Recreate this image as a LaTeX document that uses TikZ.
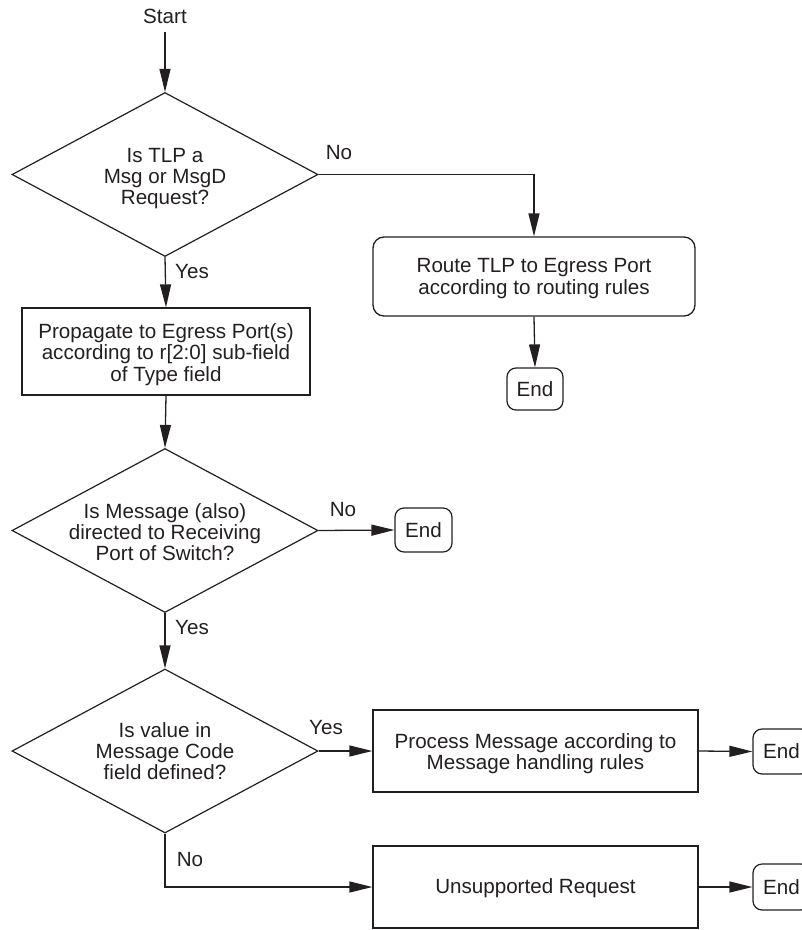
\documentclass[tikz,border=0pt]{standalone}
\usepackage{fontspec}
\setmainfont{Liberation Sans}
\usetikzlibrary{arrows.meta,shapes.geometric,calc}
\definecolor{ink}{HTML}{231F20}
\begin{document}
\begin{tikzpicture}[x=1pt,y=-1pt,
  font=\fontsize{20.6}{21.3}\selectfont,
  every node/.style={text=ink},
  arr/.style={draw=ink,line width=1.3pt,-{Triangle[length=23pt,width=11pt]}},
  dia/.style={shape=diamond,draw=ink,line width=1.2pt,inner sep=0pt,minimum width=306pt,minimum height=164pt},
  txt/.style={align=center,inner sep=0pt},
  procbox/.style={shape=rectangle,draw=ink,line width=1.3pt,inner sep=0pt},
  rbox/.style={shape=rectangle,draw=ink,line width=1.3pt,rounded corners=11pt,inner sep=0pt},
  endbox/.style={shape=rectangle,draw=ink,line width=1.2pt,rounded corners=9pt,inner sep=0pt,minimum width=57pt,minimum height=44pt},
  lab/.style={inner sep=0pt}
]
\useasboundingbox (0,0) rectangle (802,930);

\node[inner sep=0pt] (start) at (165,16) {Start};
\coordinate (s0) at (165,32);

\node[dia,label={[txt,yshift=-4pt]center:Is TLP a\\Msg or MsgD\\Request?}] (d1) at (165,174.5) {};

\node[procbox,minimum width=288pt,minimum height=87pt,
  label={[txt,yshift=-3pt]center:Propagate to Egress Port(s)\\according to r[2:0] sub-field\\of Type field}] (b1) at (166,351.5) {};

\node[dia,label={[txt,yshift=-1.5pt]center:Is Message (also)\\directed to Receiving\\Port of Switch?}] (d2) at (165,530.5) {};

\node[dia,label={[txt]center:Is value in\\Message Code\\field defined?}] (d3) at (165,751) {};

\node[rbox,minimum width=322pt,minimum height=79pt,
  label={[txt,yshift=-2pt]center:Route TLP to Egress Port\\according to routing rules}] (route) at (534,276.5) {};
\node[endbox,minimum width=56pt,minimum height=42pt] (e1) at (535,389) {End};
\node[endbox] (e2) at (423.5,530) {End};

\node[procbox,minimum width=325pt,minimum height=82pt,
  label={[txt,yshift=-2.5pt]center:Process Message according to\\Message handling rules}] (proc) at (535.5,751) {};
\node[procbox,minimum width=325pt,minimum height=82pt,
  label={[txt,yshift=-1.5pt]center:Unsupported Request}] (unsup) at (535.5,887) {};

\node[endbox,minimum height=45pt] (e3) at (781.5,751.5) {End};
\node[endbox,minimum height=46pt] (e4) at (781.5,887) {End};

% connectors
\draw[arr] (s0) -- (d1.north);
\draw[arr] (d1.south) -- (b1.north);
\draw[arr] (d1.east) -| (route.north);
\draw[arr] (route.south) -- (e1.north);
\draw[arr] (b1.south) -- (d2.north);
\draw[arr] (d2.east) -- (e2.west);
\draw[arr] (d2.south) -- (d3.north);
\draw[arr] (d3.east) -- (proc.west);
\draw[arr] (d3.south) |- (unsup.west);
\draw[arr] (proc.east) -- (e3.west);
\draw[arr] (unsup.east) -- (e4.west);

% labels
\node[lab] (l1) at (339,153) {No};
\node[lab] (l2) at (192,272) {Yes};
\node[lab] (l3) at (343,510) {No};
\node[lab] (l4) at (192,628) {Yes};
\node[lab] (l5) at (326,728) {Yes};
\node[lab] (l6) at (190,860) {No};
\end{tikzpicture}
\end{document}
